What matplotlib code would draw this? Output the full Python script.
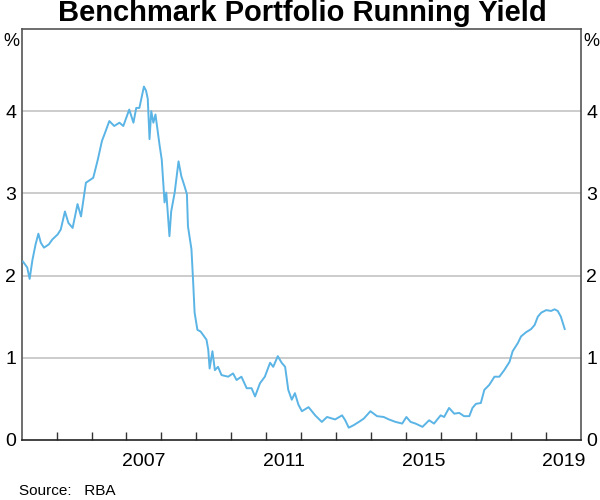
import matplotlib
matplotlib.use("Agg")
import matplotlib.pyplot as plt
import numpy as np

plt.rcParams["font.family"] = ["Liberation Sans", "DejaVu Sans"]

# ── Data ──────────────────────────────────────────────────────────────────────
years = [
    2004.04, 2004.16, 2004.23, 2004.31, 2004.40, 2004.48, 2004.55, 2004.64, 2004.78, 2004.88,
    2005.03, 2005.12, 2005.24, 2005.34, 2005.46, 2005.60, 2005.70, 2005.84, 2005.98, 2006.05,
    2006.18, 2006.30, 2006.39, 2006.51, 2006.65, 2006.80, 2006.91, 2007.08, 2007.20, 2007.28,
    2007.37, 2007.50, 2007.56, 2007.61, 2007.66, 2007.71, 2007.77, 2007.83, 2007.95, 2008.01,
    2008.09, 2008.14, 2008.23, 2008.28, 2008.38, 2008.49, 2008.57, 2008.66, 2008.73, 2008.76,
    2008.83, 2008.86, 2008.91, 2008.95, 2009.03, 2009.12, 2009.19, 2009.29, 2009.34, 2009.38,
    2009.46, 2009.53, 2009.62, 2009.72, 2009.91, 2010.05, 2010.15, 2010.29, 2010.44, 2010.58,
    2010.68, 2010.82, 2010.96, 2011.11, 2011.20, 2011.33, 2011.44, 2011.54, 2011.63, 2011.73,
    2011.82, 2011.92, 2012.02, 2012.21, 2012.40, 2012.59, 2012.74, 2012.97, 2013.17, 2013.26,
    2013.36, 2013.50, 2013.65, 2013.79, 2013.98, 2014.17, 2014.36, 2014.51, 2014.70, 2014.89,
    2015.01, 2015.13, 2015.27, 2015.47, 2015.66, 2015.80, 2015.99, 2016.09, 2016.23, 2016.38,
    2016.52, 2016.66, 2016.81, 2016.90, 2017.00, 2017.14, 2017.24, 2017.38, 2017.53, 2017.67,
    2017.81, 2017.96, 2018.05, 2018.20, 2018.29, 2018.43, 2018.58, 2018.68, 2018.77, 2018.87,
    2019.01, 2019.15, 2019.25, 2019.34, 2019.43, 2019.54,
]
yield_pct = [
    2.17, 2.10, 1.96, 2.19, 2.38, 2.51, 2.40, 2.34, 2.38, 2.44,
    2.50, 2.56, 2.78, 2.64, 2.58, 2.87, 2.72, 3.13, 3.17, 3.19,
    3.41, 3.64, 3.74, 3.88, 3.82, 3.86, 3.82, 4.02, 3.86, 4.04,
    4.04, 4.30, 4.25, 4.15, 3.66, 4.00, 3.86, 3.96, 3.58, 3.41,
    2.89, 3.01, 2.48, 2.78, 3.01, 3.39, 3.21, 3.09, 2.99, 2.60,
    2.40, 2.32, 1.91, 1.55, 1.34, 1.32, 1.28, 1.22, 1.10, 0.87,
    1.08, 0.85, 0.89, 0.79, 0.77, 0.81, 0.73, 0.77, 0.63, 0.63,
    0.53, 0.69, 0.77, 0.94, 0.89, 1.02, 0.94, 0.89, 0.61, 0.49,
    0.57, 0.43, 0.35, 0.40, 0.30, 0.22, 0.28, 0.25, 0.30, 0.24,
    0.15, 0.18, 0.22, 0.26, 0.35, 0.29, 0.28, 0.25, 0.22, 0.20,
    0.28, 0.22, 0.20, 0.16, 0.24, 0.20, 0.30, 0.28, 0.39, 0.32,
    0.33, 0.29, 0.29, 0.39, 0.44, 0.45, 0.61, 0.67, 0.77, 0.77,
    0.85, 0.95, 1.08, 1.18, 1.26, 1.31, 1.35, 1.40, 1.50, 1.55,
    1.58, 1.57, 1.59, 1.57, 1.50, 1.35,
]

year_labels = [2007, 2011, 2015, 2019]
y_ticks = [0, 1, 2, 3, 4]

# ── Figure ────────────────────────────────────────────────────────────────────
fig = plt.figure(figsize=(6, 5), dpi=100)
ax = fig.add_axes([0.036, 0.12, 0.932, 0.822])

ax.plot(years, yield_pct, color="#5AB4E5", linewidth=1.4, zorder=3)

ax.set_xlim(2004, 2020)
ax.set_ylim(0, 5)

# year boundaries as ticks, labels centred in each year
ax.set_xticks(np.arange(2005, 2020))
ax.set_xticklabels([])
ax.set_xticks([y + 0.5 for y in year_labels], minor=True)
ax.set_xticklabels([str(y) for y in year_labels], minor=True)
ax.tick_params(axis="x", which="major", direction="in", length=6,
               width=1, color="#333333")
ax.tick_params(axis="x", which="minor", length=0, pad=9, labelsize=14)

ax.set_yticks(y_ticks)
ax.set_yticklabels([str(v) for v in y_ticks])
ax.tick_params(axis="y", length=0, labelsize=14, pad=4,
               labelleft=True, labelright=True)

for v in [1, 2, 3, 4]:
    ax.axhline(v, color="#c4c4c4", linewidth=1.2, zorder=1)

for side in ["left", "right", "top"]:
    ax.spines[side].set_color("#555555")
    ax.spines[side].set_linewidth(1.2)
ax.spines["bottom"].set_color("#222222")
ax.spines["bottom"].set_linewidth(1.2)

fig.text(0.504, 0.958, "Benchmark Portfolio Running Yield", ha="center", va="baseline",
         fontsize=21, fontweight="bold")
fig.text(0.006, 0.918, "%", ha="left", va="center", fontsize=13)
fig.text(0.999, 0.918, "%", ha="right", va="center", fontsize=13)
fig.text(0.032, 0.018, "Source:   RBA", ha="left", va="center", fontsize=11)

fig.savefig("out.png", dpi=100)
